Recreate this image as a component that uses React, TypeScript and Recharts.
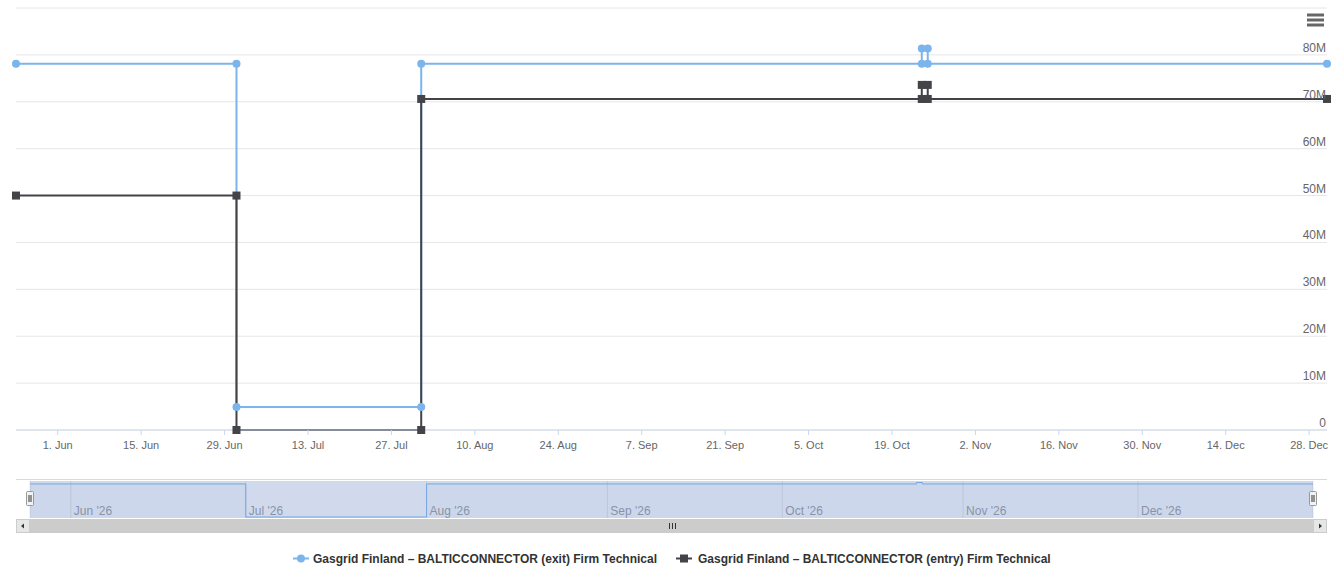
import React from "react";
import { LineChart, Line, AreaChart, Area, XAxis, YAxis, CartesianGrid } from "recharts";

// ---- data ----

const POINT_DATES = [
  "2026-05-25",
  "2026-07-01",
  "2026-07-01",
  "2026-08-01",
  "2026-08-01",
  "2026-10-24",
  "2026-10-24",
  "2026-10-25",
  "2026-10-25",
  "2026-12-31",
];

const EXIT_VALUES = [
  78100000, 78100000, 4900000, 4900000, 78100000, 78100000, 81350000, 81350000, 78100000, 78100000,
];

const ENTRY_VALUES = [
  50000000, 50000000, 0, 0, 70600000, 70600000, 73600000, 73600000, 70600000, 70600000,
];

const SERIES_NAMES = [
  "Gasgrid Finland – BALTICCONNECTOR (exit) Firm Technical",
  "Gasgrid Finland – BALTICCONNECTOR (entry) Firm Technical",
];

const X_TICK_DATES = [
  "2026-06-01", "2026-06-15", "2026-06-29", "2026-07-13", "2026-07-27", "2026-08-10",
  "2026-08-24", "2026-09-07", "2026-09-21", "2026-10-05", "2026-10-19", "2026-11-02",
  "2026-11-16", "2026-11-30", "2026-12-14", "2026-12-28",
];

const NAV_MONTH_DATES = [
  "2026-06-01", "2026-07-01", "2026-08-01", "2026-09-01", "2026-10-01", "2026-11-01", "2026-12-01",
];

const Y_TICKS = [0, 10000000, 20000000, 30000000, 40000000, 50000000, 60000000, 70000000, 80000000, 90000000];

const MONTHS = ["Jan", "Feb", "Mar", "Apr", "May", "Jun", "Jul", "Aug", "Sep", "Oct", "Nov", "Dec"];

const EXIT_COLOR = "#7cb5ec";
const ENTRY_COLOR = "#434348";
const FONT = '"Liberation Sans", Arial, sans-serif';

const rows = POINT_DATES.map((d, i) => ({
  t: Date.parse(d),
  exit: EXIT_VALUES[i],
  entry: ENTRY_VALUES[i],
}));

const xTicks = X_TICK_DATES.map((d) => Date.parse(d));
const navTicks = NAV_MONTH_DATES.map((d) => Date.parse(d));

const fmtDay = (v: number) => {
  const d = new Date(v);
  return `${d.getUTCDate()}. ${MONTHS[d.getUTCMonth()]}`;
};

const fmtMonth = (v: number) => {
  const d = new Date(v);
  return `${MONTHS[d.getUTCMonth()]} '${String(d.getUTCFullYear()).slice(2)}`;
};

function YTick(props: any) {
  const { x, y, payload } = props;
  if (payload.value >= 90000000) return <g />;
  const label = payload.value === 0 ? "0" : `${payload.value / 1000000}M`;
  return (
    <text x={x - 1} y={y - 3} textAnchor="end" fill="#666" fontSize={12} fontFamily={FONT}>
      {label}
    </text>
  );
}

function NavTick(props: any) {
  const { x, y, payload } = props;
  return (
    <text x={x + 3} y={y - 3} textAnchor="start" fill="#999" fontSize={12} fontFamily={FONT}>
      {fmtMonth(payload.value)}
    </text>
  );
}

function SquareDot(props: any) {
  const { cx, cy, index } = props;
  return <rect key={`sq-${index}`} x={cx - 4} y={cy - 4} width={8} height={8} fill={ENTRY_COLOR} />;
}

function Handle({ left }: { left: number }) {
  return (
    <svg style={{ position: "absolute", left: left - 4, top: 491 }} width={8} height={16}>
      <rect x={0.5} y={0.5} width={7} height={14} fill="#f2f2f2" stroke="#999" rx={1} />
      <line x1={3} x2={3} y1={4} y2={11} stroke="#333" />
      <line x1={5} x2={5} y1={4} y2={11} stroke="#333" />
    </svg>
  );
}

export default function App() {
  return (
    <div
      style={{
        position: "absolute",
        left: 0,
        top: 0,
        width: 1332,
        height: 568,
        background: "#fff",
        fontFamily: FONT,
        overflow: "hidden",
      }}
    >
      {/* main chart */}
      <div style={{ position: "absolute", left: 0, top: 0 }}>
        <LineChart width={1332} height={460} data={rows} margin={{ top: 8, right: 4, bottom: 0, left: 16 }}>
          <CartesianGrid vertical={false} stroke="#e6e6e6" />
          <XAxis
            dataKey="t"
            type="number"
            domain={["dataMin", "dataMax"]}
            ticks={xTicks}
            tickFormatter={fmtDay}
            stroke="#ccd6eb"
            tick={{ fill: "#666", fontSize: 11, fontFamily: FONT }}
            tickSize={5}
            tickMargin={6}
            height={30}
            interval={0}
          />
          <YAxis
            orientation="right"
            width={1}
            domain={[0, 90000000]}
            ticks={Y_TICKS}
            axisLine={false}
            tickLine={false}
            tickSize={0}
            tickMargin={0}
            tick={<YTick />}
            interval={0}
          />
          <Line
            type="linear"
            dataKey="exit"
            name={SERIES_NAMES[0]}
            stroke={EXIT_COLOR}
            strokeWidth={2}
            dot={{ r: 4, fill: EXIT_COLOR, stroke: "none" }}
            isAnimationActive={false}
          />
          <Line
            type="linear"
            dataKey="entry"
            name={SERIES_NAMES[1]}
            stroke={ENTRY_COLOR}
            strokeWidth={2}
            dot={SquareDot}
            isAnimationActive={false}
          />
        </LineChart>
      </div>

      {/* hamburger menu */}
      <svg style={{ position: "absolute", left: 1304, top: 10 }} width={24} height={20}>
        <line x1={3} x2={20} y1={5} y2={5} stroke="#666" strokeWidth={3} />
        <line x1={3} x2={20} y1={10} y2={10} stroke="#666" strokeWidth={3} />
        <line x1={3} x2={20} y1={15} y2={15} stroke="#666" strokeWidth={3} />
      </svg>

      {/* navigator */}
      <div style={{ position: "absolute", left: 16, top: 479, width: 1311, height: 1, background: "#d9d9d9" }} />
      <div style={{ position: "absolute", left: 0, top: 481 }}>
        <AreaChart width={1332} height={38} data={rows} margin={{ top: 0, right: 19, bottom: 0, left: 30 }}>
          <CartesianGrid horizontal={false} stroke="#e6e6e6" />
          <XAxis
            dataKey="t"
            type="number"
            domain={["dataMin", "dataMax"]}
            ticks={navTicks}
            height={1}
            axisLine={false}
            tickLine={false}
            tickSize={0}
            tickMargin={0}
            tick={<NavTick />}
            interval={0}
          />
          <YAxis
            hide
            domain={[(min: number) => min - 2200000, (max: number) => max + 3300000]}
          />
          <Area
            type="linear"
            dataKey="exit"
            stroke={EXIT_COLOR}
            strokeWidth={1}
            fill={EXIT_COLOR}
            fillOpacity={0.05}
            dot={false}
            isAnimationActive={false}
          />
        </AreaChart>
      </div>
      <div
        style={{
          position: "absolute",
          left: 30,
          top: 481,
          width: 1283,
          height: 37,
          background: "rgba(102,133,194,0.3)",
        }}
      />
      <Handle left={30} />
      <Handle left={1313} />

      {/* scrollbar */}
      <div style={{ position: "absolute", left: 16, top: 519, width: 1311, height: 14, background: "#f2f2f2" }} />
      <div style={{ position: "absolute", left: 30, top: 519, width: 1283, height: 14, background: "#cccccc" }} />
      <svg style={{ position: "absolute", left: 16, top: 519 }} width={14} height={14}>
        <rect x={0.5} y={0.5} width={13} height={13} fill="#e6e6e6" stroke="#cccccc" />
        <path d="M 8 4.5 L 5 7 L 8 9.5 Z" fill="#333" />
      </svg>
      <svg style={{ position: "absolute", left: 1313, top: 519 }} width={14} height={14}>
        <rect x={0.5} y={0.5} width={13} height={13} fill="#e6e6e6" stroke="#cccccc" />
        <path d="M 6 4.5 L 9 7 L 6 9.5 Z" fill="#333" />
      </svg>
      <svg style={{ position: "absolute", left: 665, top: 519 }} width={14} height={14}>
        <line x1={4.5} x2={4.5} y1={4} y2={10} stroke="#333" />
        <line x1={7.5} x2={7.5} y1={4} y2={10} stroke="#333" />
        <line x1={10.5} x2={10.5} y1={4} y2={10} stroke="#333" />
      </svg>

      {/* legend */}
      <svg style={{ position: "absolute", left: 0, top: 545 }} width={1332} height={23}>
        <line x1={293} x2={309} y1={13.5} y2={13.5} stroke={EXIT_COLOR} strokeWidth={2} />
        <circle cx={301} cy={13.5} r={4} fill={EXIT_COLOR} />
        <text x={313} y={18} fill="#333" fontSize={12} fontWeight="bold" fontFamily={FONT}>
          {SERIES_NAMES[0]}
        </text>
        <line x1={676} x2={692} y1={13.5} y2={13.5} stroke={ENTRY_COLOR} strokeWidth={2} />
        <rect x={680} y={9.5} width={8} height={8} fill={ENTRY_COLOR} />
        <text x={698} y={18} fill="#333" fontSize={12} fontWeight="bold" fontFamily={FONT}>
          {SERIES_NAMES[1]}
        </text>
      </svg>
    </div>
  );
}
